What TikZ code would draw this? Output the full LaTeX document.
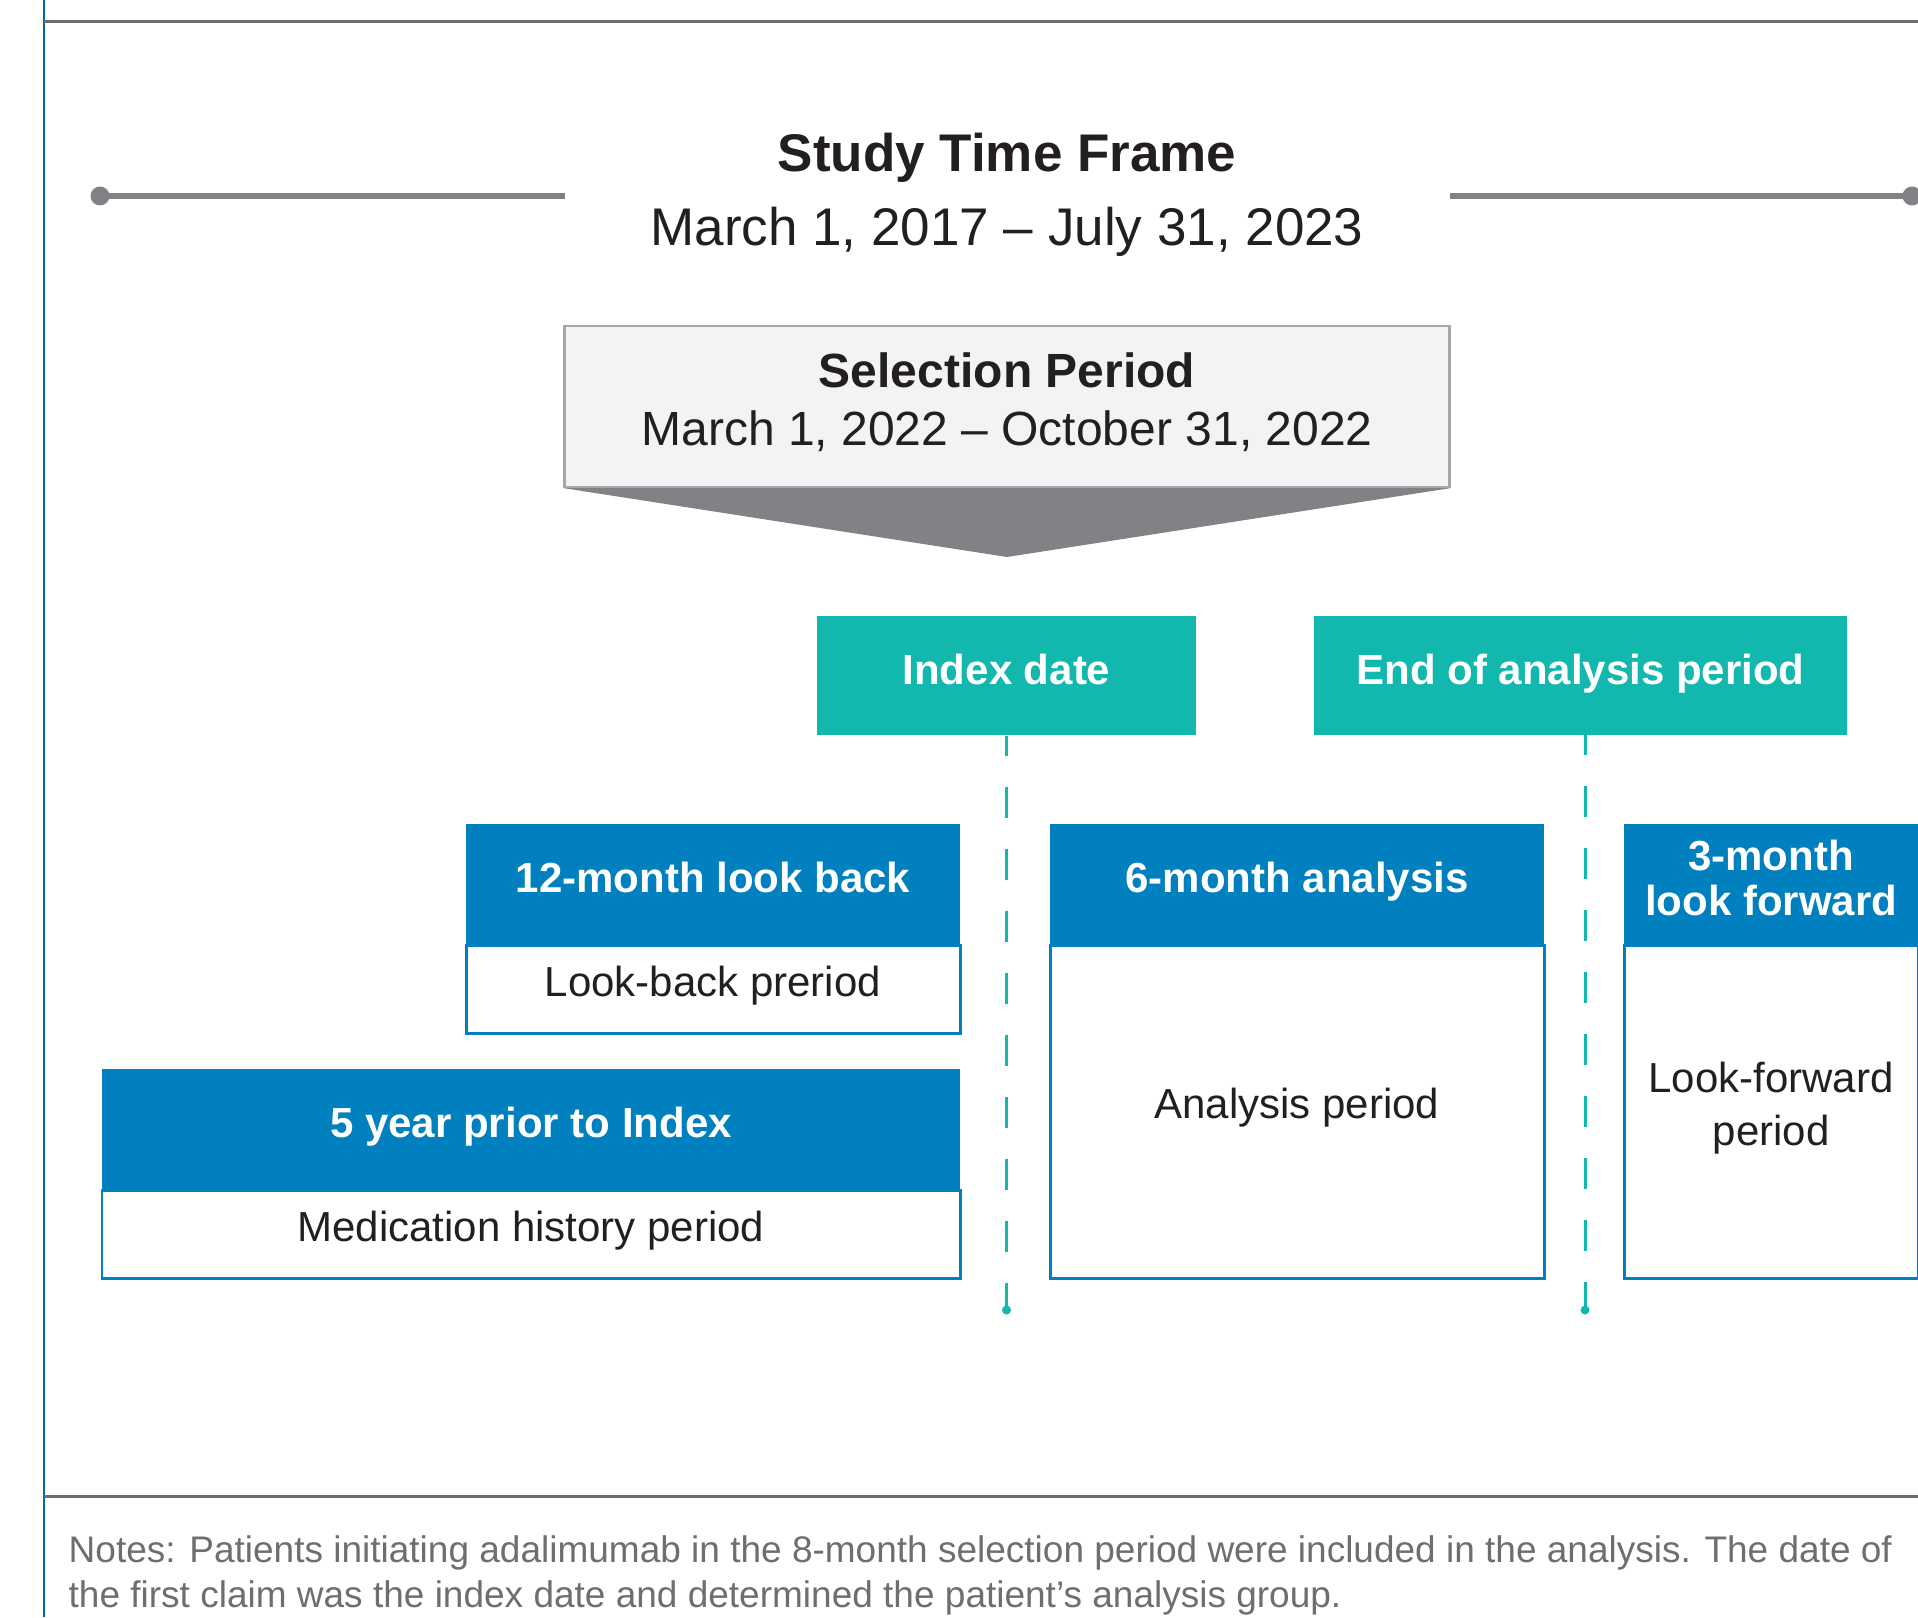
\documentclass[tikz,border=0pt]{standalone}
\usepackage{fontspec}
\setmainfont{Liberation Sans}
\definecolor{hdblue}{HTML}{0080BE}
\definecolor{evteal}{HTML}{12B8AE}
\definecolor{framegray}{HTML}{6D6E71}
\definecolor{linegray}{HTML}{808285}
\definecolor{selfill}{HTML}{F3F3F3}
\definecolor{ink}{HTML}{231F20}
\definecolor{rimblue}{HTML}{0067B1}
\tikzset{
  head/.style = {fill=hdblue, text=white, font=\fontsize{11.95}{12.8}\selectfont\bfseries, align=center, inner sep=0pt, text depth=3.4pt},
  body/.style = {draw=hdblue, line width=0.85pt, text=ink, font=\fontsize{11.95}{15}\selectfont, align=center, inner sep=0pt, text depth=5pt},
  event/.style = {fill=evteal, text=white, font=\fontsize{11.95}{14}\selectfont\bfseries, minimum height=1.19cm, inner sep=0pt, text depth=3.4pt},
  guide/.style = {evteal, line width=0.85pt, dash pattern=on 0.31cm off 0.31cm, dash phase=0.11cm},
  tline/.style = {linegray, line width=1.7pt}
}
\newcommand{\phase}[7]{\node[head, minimum width=#3cm, minimum height=1.2cm, anchor=north] (#1h) at (#2,#4) {#6};
\node[body, minimum width=#3cm, minimum height=#5cm, anchor=north] (#1b) at (#1h.south) {#7};}

\begin{document}
\begin{tikzpicture}
\useasboundingbox (0,0) rectangle (19.18,-16.17);
\draw[rimblue, line width=0.85pt] (0.44,0) -- (0.44,-16.17);
\draw[framegray, line width=0.85pt] (0.44,-0.22) -- (19.18,-0.22);
\draw[framegray, line width=0.85pt] (0.44,-14.96) -- (19.18,-14.96);
\coordinate (tl0) at (1.00,-1.96);
\coordinate (tl1) at (5.65,-1.96);
\coordinate (tl2) at (14.50,-1.96);
\coordinate (tl3) at (19.12,-1.96);
\draw[tline] (tl0) -- (tl1);
\draw[tline] (tl2) -- (tl3);
\fill[linegray] (tl0) circle (0.095);
\fill[linegray] (tl3) circle (0.095);
\node[ink, font=\fontsize{15.08}{18}\selectfont\bfseries, anchor=base] (frame) at (10.07,-1.72) {Study Time Frame};
\node[ink, font=\fontsize{15.08}{18}\selectfont, anchor=base] (span) at (10.07,-2.46) {March 1, 2017 -- July 31, 2023};
\node[draw=linegray!70, fill=selfill, line width=0.6pt, minimum width=8.85cm, minimum height=1.61cm, anchor=north,
      text=ink, font=\fontsize{13.66}{16.5}\selectfont, align=center, text depth=4.3pt] (sel) at (10.07,-3.25)
      {\textbf{Selection Period}\\March 1, 2022 -- October 31, 2022};
\fill[linegray] (sel.south west) -- (sel.south east) -- (10.07,-5.57) -- cycle;
\node[event, minimum width=3.79cm] (idx) at (10.065,-6.755) {Index date};
\node[event, minimum width=5.33cm] (eoa) at (15.805,-6.755) {End of analysis period};
\coordinate (idxend) at (idx.south |- 0,-13.10);
\coordinate (eoaend) at (15.85,-13.10);
\draw[guide] (idx.south) -- (idxend);
\draw[guide] (15.85,-7.35) coordinate (eoatop) -- (eoaend);
\fill[evteal] (idxend) circle (0.045);
\fill[evteal] (eoaend) circle (0.045);
\phase{back}{7.13}{4.94}{-8.23}{0.88}{12-month look back}{Look-back preriod}
\phase{hist}{5.31}{8.58}{-10.68}{0.88}{5 year prior to Index}{Medication history period}
\phase{anal}{12.97}{4.94}{-8.23}{3.33}{6-month analysis}{Analysis period}
\phase{fwd}{17.71}{2.94}{-8.23}{3.33}{3-month\\look forward}{Look-forward\\period}
\node[framegray, font=\fontsize{10.53}{12.8}\selectfont, anchor=base west, align=left, inner sep=0pt] (notes) at (0.68,-16.07)
  {Notes: Patients initiating adalimumab in the 8-month selection period were included in the analysis. The date of\\the first claim was the index date and determined the patient’s analysis group.};
\end{tikzpicture}
\end{document}
